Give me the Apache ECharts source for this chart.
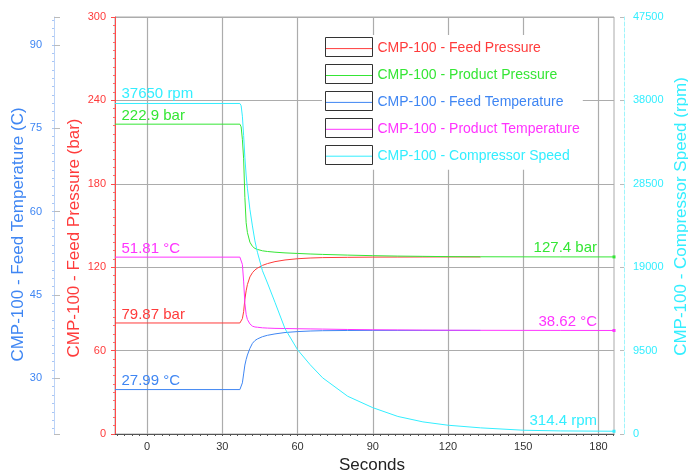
<!DOCTYPE html>
<html><head><meta charset="utf-8">
<script src="https://cdn.jsdelivr.net/npm/echarts@6/dist/echarts.min.js"></script>
<style>html,body{margin:0;padding:0;background:#fff}#c{width:688px;height:473px}</style>
</head><body><div id="c"></div>
<script>
// ---- data ----
const seriesNames = ['CMP-100 - Feed Pressure','CMP-100 - Product Pressure','CMP-100 - Feed Temperature','CMP-100 - Product Temperature','CMP-100 - Compressor Speed'];
const seriesUnits = ['bar','bar','°C','°C','rpm'];
const seriesColors = ['#ff3b3b','#35e635','#3f86f3','#ff33ff','#33eeff'];
const time = [-12.8, 37.0, 37.5, 38, 38.5, 39, 39.5, 40, 41, 42, 43, 44, 46, 48, 51, 55, 60, 65, 70, 80, 90, 100, 110, 120, 133, 150, 165, 186.2];
const feedPressure = [79.87, 79.87, 80.5, 83, 88, 97, 103, 107.5, 113, 116, 118, 119.3, 121.3, 122.6, 124, 125.2, 126.1, 126.6, 126.9, 127.1, 127.25, 127.3, 127.35, 127.4, 127.4, null, null, null];
const productPressure = [222.9, 222.9, 221, 212, 198, 170, 152, 145, 138, 135, 133.5, 132.8, 131.8, 131.3, 130.8, 130.3, 129.9, 129.5, 129.2, 128.7, 128.3, 128, 127.8, 127.6, 127.5, 127.45, 127.4, 127.4];
const feedTemperature = [27.99, 27.99, 28.1, 29.2, 30.8, 32.4, 33.4, 34.2, 35.4, 36.3, 36.8, 37.1, 37.5, 37.75, 38.0, 38.25, 38.42, 38.52, 38.58, 38.62, 38.63, 38.63, 38.63, 38.63, 38.63, null, null, null];
const productTemperature = [51.81, 51.81, 51.6, 50.5, 47.5, 43.5, 41.5, 40.6, 39.8, 39.4, 39.25, 39.2, 39.1, 39.05, 39.0, 38.97, 38.93, 38.9, 38.87, 38.8, 38.75, 38.72, 38.69, 38.67, 38.65, 38.64, 38.63, 38.62];
const compressorSpeed = [37650, 37650, 37400, 36200, 34000, 31500, 29500, 28000, 25600, 23700, 22000, 20700, 18600, 17200, 15000, 12000, 9600, 7900, 6400, 4300, 3000, 2000, 1380, 1000, 700, 430, 350, 314.4];
const xTicks = [0, 30, 60, 90, 120, 150, 180];
const pressureTicks = [0, 60, 120, 180, 240, 300];
const tempLabels = [30, 45, 60, 75, 90];
const tempTicks = [20, 30, 45, 60, 75, 90, 95];
const speedTicks = [0, 9500, 19000, 28500, 38000, 47500];
const xMinorTicks = []; for (let v = -12; v <= 186; v += 3) xMinorTicks.push(v);
const tempMinorTicks = []; for (let v = 21; v <= 95; v += 1.5) tempMinorTicks.push(v);

const allValues = [feedPressure, productPressure, feedTemperature, productTemperature, compressorSpeed];
const axisIndexOf = [0, 0, 1, 1, 3];
const endLabelShown = [false, true, false, true, true];
const startOffsetY = [-8.5, -8.5, -8.5, -8.5, -10];
const endOffsetY = [-9, -9, -8.5, -8.5, -10];

const FONT = 'Liberation Sans, Arial, sans-serif';
const grey = '#acacac';
const plain = v => String(v);

const series = allValues.map((vals, i) => {
  const data = time.map((t, k) => [t, vals[k]]);
  const mp = [{
    coord: [time[0], vals[0]], value: vals[0], symbolSize: 0,
    label: {show: true, position: [6.5, startOffsetY[i]], align: 'left', verticalAlign: 'middle'}
  }];
  if (endLabelShown[i]) {
    const last = vals.length - 1;
    mp.push({
      coord: [time[last], vals[last]], value: vals[last], symbolSize: 0,
      label: {show: true, position: [-17, endOffsetY[i]], align: 'right', verticalAlign: 'middle'}
    });
    mp.push({coord: [time[last], vals[last]], value: vals[last], symbolSize: 3, label: {show: false}});
  }
  return {
    name: seriesNames[i], type: 'line', yAxisIndex: axisIndexOf[i], data,
    showSymbol: false, symbol: 'none', connectNulls: false,
    lineStyle: {width: 1, color: seriesColors[i]}, itemStyle: {color: seriesColors[i]},
    emphasis: {disabled: true},
    markPoint: {
      symbol: 'rect', silent: true, animation: false,
      itemStyle: {color: seriesColors[i]},
      label: {color: seriesColors[i], fontSize: 15, fontFamily: FONT,
        formatter: p => p.value + ' ' + seriesUnits[i]},
      data: mp
    }
  };
});

const boxes = seriesNames.map((n, i) => ({
  type: 'rect', z: 100, silent: true,
  shape: {x: 325.5, y: 37.5 + 27 * i, width: 47, height: 19},
  style: {fill: 'none', stroke: '#333', lineWidth: 1}
}));

const option = {
  animation: false,
  textStyle: {fontFamily: FONT},
  grid: {left: 115, right: 74, top: 17, bottom: 39, show: true, borderColor: '#aaa', borderWidth: 1,
    backgroundColor: 'transparent', outerBoundsMode: 'none', containLabel: false},
  legend: {
    orient: 'vertical', left: 322, top: 35, itemWidth: 47, itemHeight: 19, itemGap: 11.7,
    padding: [6, 3, 6, 3], backgroundColor: '#fff', selectedMode: false,
    textStyle: {fontSize: 14, fontFamily: FONT},
    itemStyle: {opacity: 0},
    lineStyle: {width: 1},
    data: seriesNames.map((n, i) => ({name: n, textStyle: {color: seriesColors[i]}}))
  },
  graphic: boxes,
  xAxis: [{
    type: 'value', min: -12.8, max: 186.2, position: 'bottom',
    name: 'Seconds', nameLocation: 'middle', nameGap: 23, nameMoveOverlap: false,
    nameTextStyle: {fontSize: 17, color: '#222', padding: [0, 0, 0, 15]},
    axisLine: {show: true, onZero: false, lineStyle: {color: '#555', width: 1}},
    axisTick: {show: false, customValues: xTicks},
    axisLabel: {customValues: xTicks, color: '#333', fontSize: 11, margin: 7, formatter: plain},
    splitLine: {show: true, lineStyle: {color: grey, width: 1.2}}
  }, {
    type: 'value', min: -12.8, max: 186.2, position: 'bottom',
    axisLine: {show: false, onZero: false},
    axisTick: {show: true, customValues: xMinorTicks, length: 2, lineStyle: {color: '#555'}},
    axisLabel: {show: false},
    splitLine: {show: false}
  }],
  yAxis: [{
    type: 'value', min: 0, max: 300, interval: 60, position: 'left', offset: 0,
    name: 'CMP-100 - Feed Pressure (bar)', nameLocation: 'middle', nameGap: 32, nameMoveOverlap: false,
    nameTextStyle: {fontSize: 17, color: '#ff3b3b', padding: [0, 25, 0, 0]},
    axisLine: {show: true, onZero: false, lineStyle: {color: '#ff4a4a', width: 1}},
    axisTick: {show: true, length: 4, lineStyle: {color: '#ff4a4a'}},
    minorTick: {show: true, splitNumber: 10, length: 2, lineStyle: {color: '#ff6a6a'}},
    axisLabel: {color: '#ff3b3b', fontSize: 11, margin: 9, formatter: plain},
    splitLine: {show: true, lineStyle: {color: grey, width: 1.2}}
  }, {
    type: 'value', min: 20, max: 95, position: 'left', offset: 61,
    name: 'CMP-100 - Feed Temperature (C)', nameLocation: 'middle', nameGap: 27, nameMoveOverlap: false,
    nameTextStyle: {fontSize: 17, color: '#3f86f3', padding: [0, 18, 0, 0]},
    axisLine: {show: true, onZero: false, lineStyle: {color: '#bcd3f7', width: 1}},
    axisTick: {show: true, inside: true, length: 6, customValues: tempTicks, lineStyle: {color: '#bbb'}},
    axisLabel: {customValues: tempLabels, color: '#3f86f3', fontSize: 11, margin: 12, formatter: plain},
    splitLine: {show: false}
  }, {
    type: 'value', min: 20, max: 95, position: 'left', offset: 61,
    axisLine: {show: false, onZero: false},
    axisTick: {show: true, length: 2, customValues: tempMinorTicks, lineStyle: {color: '#a9c6f5'}},
    axisLabel: {show: false},
    splitLine: {show: false}
  }, {
    type: 'value', min: 0, max: 47500, interval: 9500, position: 'right', offset: 10,
    name: 'CMP-100 - Compressor Speed (rpm)', nameLocation: 'middle', nameGap: 49, nameMoveOverlap: false,
    nameTextStyle: {fontSize: 17, color: '#33eeff', padding: [0, 0, 0, 18]},
    axisLine: {show: true, onZero: false, lineStyle: {color: '#9ff4fb', width: 1, type: 'dashed'}},
    axisTick: {show: true, inside: true, length: 4, lineStyle: {color: '#bbb'}},
    axisLabel: {color: '#33eeff', fontSize: 11, margin: 9, formatter: plain},
    splitLine: {show: false}
  }],
  series
};
const chart = echarts.init(document.getElementById('c'), null, {renderer: 'canvas'});
chart.setOption(option);
</script>
</body></html>
